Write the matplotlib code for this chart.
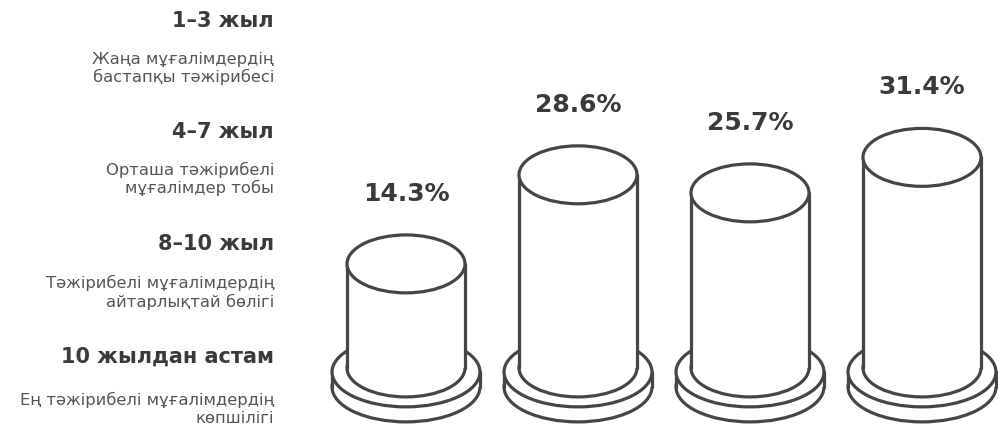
import matplotlib
matplotlib.use("Agg")
import matplotlib.pyplot as plt
from matplotlib.patches import Ellipse, Rectangle

# ---- data ----
categories = ["1–3 жыл", "4–7 жыл", "8–10 жыл", "10 жылдан астам"]
descriptions = [
    "Жаңа мұғалімдердің\nбастапқы тәжірибесі",
    "Орташа тәжірибелі\nмұғалімдер тобы",
    "Тәжірибелі мұғалімдердің\nайтарлықтай бөлігі",
    "Ең тәжірибелі мұғалімдердің\nкөпшілігі",
]
values = [14.3, 28.6, 25.7, 31.4]
value_labels = ["14.3%", "28.6%", "25.7%", "31.4%"]

# ---- style ----
STROKE = "#454545"
TITLE_C = "#3a3a3a"
DESC_C = "#555555"
LW = 2.3

W, H = 998, 425
fig = plt.figure(figsize=(W / 100, H / 100), dpi=100)
fig.patch.set_facecolor("white")

# ---- left text column ----
title_base = [27, 138, 250, 363]
line1_off = [37, 37, 38, 42]
line2_off = [55, 55, 57, 60]
x_right = 274 / W
for i, (t, d) in enumerate(zip(categories, descriptions)):
    fig.text(x_right, 1 - title_base[i] / H, t, ha="right", va="baseline",
             fontsize=15, fontweight="bold", color=TITLE_C,
             family=["DejaVu Sans"])
    lines = d.split("\n")
    offs = [line1_off[i], line2_off[i]]
    for ln, off in zip(lines, offs):
        fig.text(x_right, 1 - (title_base[i] + off) / H, ln, ha="right",
                 va="baseline", fontsize=11.8, color=DESC_C,
                 family=["DejaVu Sans"])

# ---- cylinder axes ----
ax = fig.add_axes([320 / W, 0, 678 / W, 1])
ax.set_xlim(-0.5, 3.442)
ax.set_ylim(-11.56, 56.66)
ax.axis("off")

BODY_HW = 0.343
TOP_HH = 4.65
BODY_BASE = -2.4
PLATE_HW = 0.430
PLATE_HH = 5.6
PLATE_TOP_C = -3.05
PLATE_BOT_C = -5.46

for i, (v, lab) in enumerate(zip(values, value_labels)):
    x = i
    z = 2
    # plate (thick disc)
    ax.add_patch(Ellipse((x, PLATE_BOT_C), 2 * PLATE_HW, 2 * PLATE_HH,
                         facecolor="white", edgecolor=STROKE, lw=LW, zorder=z))
    ax.add_patch(Rectangle((x - PLATE_HW, PLATE_BOT_C), 2 * PLATE_HW,
                           PLATE_TOP_C - PLATE_BOT_C, facecolor="white",
                           edgecolor="none", zorder=z + 0.1))
    for sx in (-1, 1):
        ax.add_line(plt.Line2D([x + sx * PLATE_HW] * 2, [PLATE_BOT_C, PLATE_TOP_C],
                               color=STROKE, lw=LW, zorder=z + 0.2,
                               solid_capstyle="round"))
    ax.add_patch(Ellipse((x, PLATE_TOP_C), 2 * PLATE_HW, 2 * PLATE_HH,
                         facecolor="white", edgecolor=STROKE, lw=LW, zorder=z + 0.3))
    # body
    ax.add_patch(Ellipse((x, BODY_BASE), 2 * BODY_HW, 2 * TOP_HH,
                         facecolor="white", edgecolor=STROKE, lw=LW, zorder=z + 0.4))
    ax.add_patch(Rectangle((x - BODY_HW, BODY_BASE), 2 * BODY_HW, v - BODY_BASE,
                           facecolor="white", edgecolor="none", zorder=z + 0.5))
    for sx in (-1, 1):
        ax.add_line(plt.Line2D([x + sx * BODY_HW] * 2, [BODY_BASE, v],
                               color=STROKE, lw=LW, zorder=z + 0.6,
                               solid_capstyle="round"))
    ax.add_patch(Ellipse((x, v), 2 * BODY_HW, 2 * TOP_HH,
                         facecolor="white", edgecolor=STROKE, lw=LW, zorder=z + 0.7))
    # value label
    ax.annotate(lab, xy=(x, v + TOP_HH), xytext=(0, 24.5),
                textcoords="offset points", ha="center", va="baseline",
                fontsize=18, fontweight="bold", color=TITLE_C,
                family=["DejaVu Sans"])

fig.savefig("out.png", dpi=100, facecolor="white")
